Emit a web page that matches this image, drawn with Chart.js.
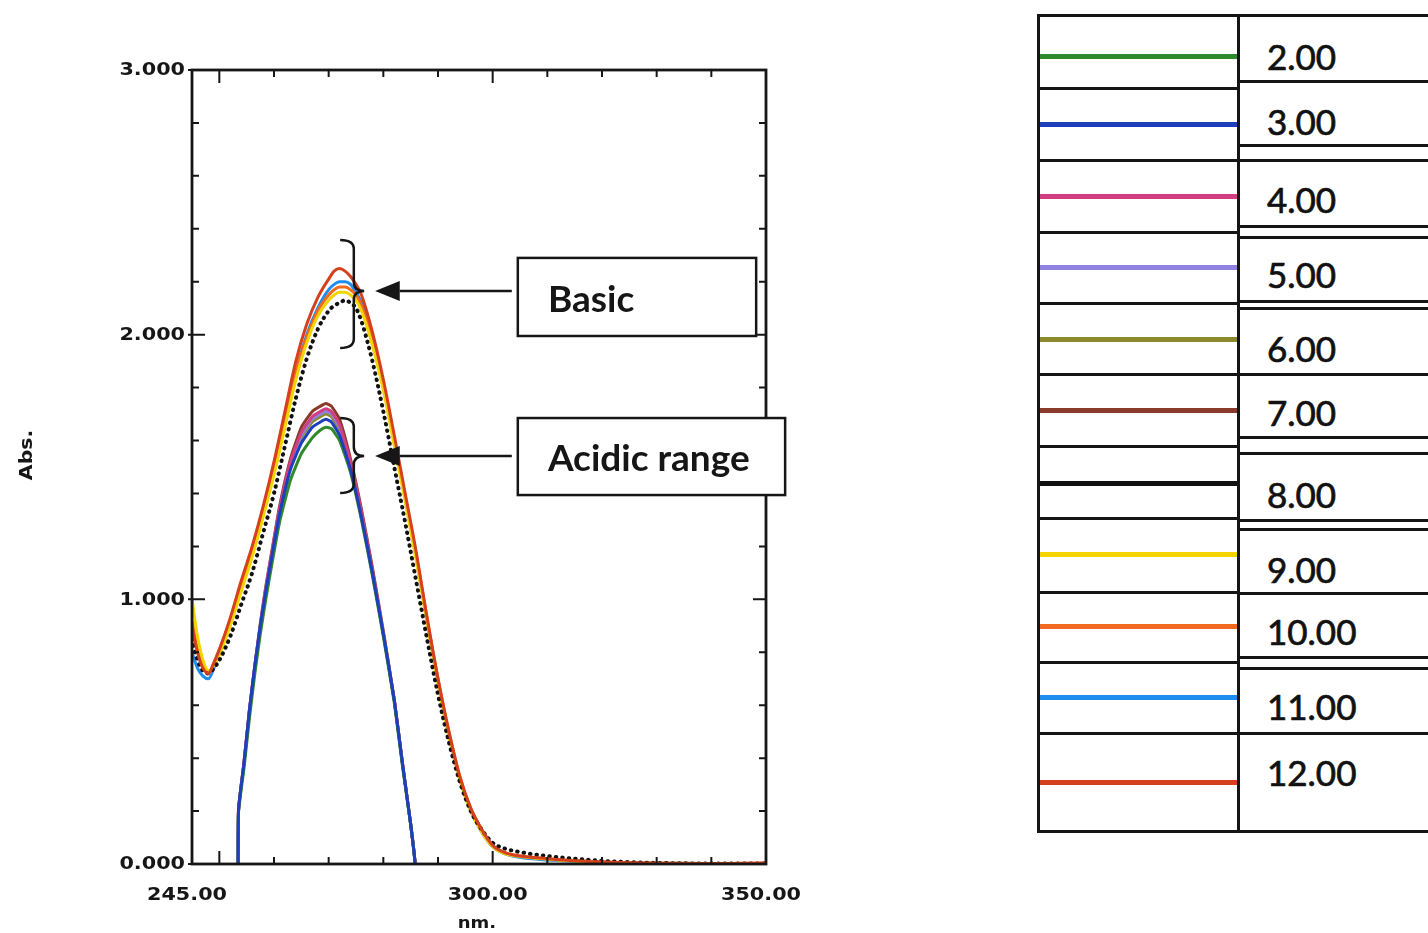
<!DOCTYPE html>
<html>
<head>
<meta charset="utf-8">
<script src="https://cdn.jsdelivr.net/npm/chart.js@4.4.0/dist/chart.umd.min.js"></script>
<style>
  body { margin: 0; background: #fff; width: 1428px; height: 933px; overflow: hidden; position: relative; font-family: Lato, sans-serif; }
  #chart { position: absolute; left: 0; top: 0; }
  .rule { position: absolute; background: #151515; }
  .swatch { position: absolute; height: 5px; }
  .ph { position: absolute; font-size: 35px; color: #111; line-height: 1; white-space: nowrap; -webkit-text-stroke: 0.7px #111; }
</style>
</head>
<body>
<canvas id="chart" width="830" height="933"></canvas>
<div id="legend"></div>
<script>
// pH of each curve, and its colour
const phLabels = ['2.00', '3.00', '4.00', '5.00', '6.00', '7.00', '8.00', '9.00', '10.00', '11.00', '12.00'];
const phColors = ['#2f8a2c', '#1d3fbb', '#d13f82', '#8f82e2', '#8c8a2c', '#8a3a2a', '#111111', '#f4d400', '#f26a22', '#1f8cf0', '#d6411d'];

// wavelengths (nm) read for the basic curves
const nmBasic = [245, 246, 247, 248, 249, 250, 252, 254, 256, 258, 260, 262, 264, 266, 268, 270, 271, 272, 273, 274, 275, 276, 278, 280, 282, 284, 286, 288, 290, 292, 294, 296, 298, 300, 302, 305, 310, 315, 320, 325, 330, 340, 350];
const absPH8  = [0.85, 0.77, 0.73, 0.72, 0.74, 0.77, 0.86, 0.98, 1.10, 1.25, 1.40, 1.58, 1.76, 1.91, 2.02, 2.09, 2.11, 2.12, 2.13, 2.12, 2.10, 2.05, 1.90, 1.71, 1.50, 1.29, 1.07, 0.85, 0.64, 0.46, 0.31, 0.20, 0.13, 0.08, 0.06, 0.045, 0.03, 0.02, 0.012, 0.007, 0.004, 0.002, 0.002];
const absPH9  = [1.00, 0.86, 0.77, 0.73, 0.75, 0.79, 0.90, 1.03, 1.16, 1.31, 1.47, 1.65, 1.83, 1.97, 2.07, 2.13, 2.15, 2.16, 2.16, 2.15, 2.13, 2.09, 1.96, 1.79, 1.58, 1.37, 1.15, 0.91, 0.68, 0.48, 0.32, 0.20, 0.12, 0.065, 0.04, 0.028, 0.018, 0.011, 0.007, 0.004, 0.003, 0.002, 0.002];
const absPH10 = [0.92, 0.81, 0.75, 0.72, 0.76, 0.81, 0.92, 1.05, 1.18, 1.33, 1.50, 1.68, 1.86, 1.99, 2.09, 2.15, 2.17, 2.18, 2.18, 2.17, 2.15, 2.11, 1.98, 1.81, 1.60, 1.39, 1.17, 0.93, 0.70, 0.50, 0.33, 0.21, 0.13, 0.07, 0.045, 0.03, 0.02, 0.013, 0.008, 0.005, 0.003, 0.002, 0.003];
const absPH11 = [0.80, 0.74, 0.71, 0.70, 0.74, 0.80, 0.92, 1.05, 1.18, 1.33, 1.50, 1.68, 1.86, 2.00, 2.10, 2.17, 2.19, 2.20, 2.20, 2.19, 2.16, 2.12, 1.99, 1.81, 1.60, 1.38, 1.16, 0.92, 0.69, 0.49, 0.32, 0.20, 0.12, 0.065, 0.04, 0.025, 0.015, 0.01, 0.006, 0.004, 0.003, 0.002, 0.002];
const absPH12 = [0.90, 0.80, 0.74, 0.72, 0.76, 0.81, 0.93, 1.07, 1.20, 1.35, 1.52, 1.71, 1.90, 2.04, 2.14, 2.21, 2.24, 2.25, 2.24, 2.22, 2.19, 2.15, 2.01, 1.83, 1.62, 1.40, 1.18, 0.93, 0.70, 0.50, 0.33, 0.21, 0.13, 0.07, 0.045, 0.03, 0.02, 0.012, 0.008, 0.005, 0.003, 0.002, 0.004];

// wavelengths (nm) read for the acidic curves (they run below zero outside this band)
const nmAcid = [253.45, 253.5, 254.5, 255.5, 256.5, 257.5, 258.5, 259.5, 261, 263, 265, 267, 268.5, 269.5, 270.5, 272, 274, 276, 278, 280, 282, 283.5, 285, 285.8, 285.85];
const absPH2 = [-0.5, 0.19, 0.36, 0.55, 0.72, 0.87, 1.00, 1.12, 1.29, 1.45, 1.55, 1.61, 1.64, 1.65, 1.645, 1.60, 1.48, 1.30, 1.09, 0.86, 0.61, 0.37, 0.15, 0.0, -0.5];
const absPH3 = [-0.5, 0.20, 0.38, 0.58, 0.75, 0.90, 1.03, 1.15, 1.32, 1.49, 1.59, 1.65, 1.67, 1.68, 1.67, 1.62, 1.49, 1.31, 1.10, 0.87, 0.62, 0.38, 0.15, 0.0, -0.5];
const absPH4 = [-0.5, 0.20, 0.38, 0.58, 0.75, 0.90, 1.04, 1.16, 1.34, 1.52, 1.63, 1.69, 1.71, 1.72, 1.71, 1.66, 1.52, 1.33, 1.11, 0.87, 0.62, 0.38, 0.15, 0.0, -0.5];
const absPH5 = [-0.5, 0.20, 0.38, 0.58, 0.75, 0.90, 1.04, 1.16, 1.33, 1.51, 1.62, 1.68, 1.70, 1.71, 1.70, 1.65, 1.51, 1.32, 1.10, 0.87, 0.62, 0.38, 0.15, 0.0, -0.5];
const absPH6 = [-0.5, 0.20, 0.38, 0.57, 0.74, 0.89, 1.03, 1.15, 1.33, 1.50, 1.61, 1.67, 1.69, 1.70, 1.69, 1.64, 1.50, 1.32, 1.10, 0.87, 0.62, 0.38, 0.15, 0.0, -0.5];
const absPH7 = [-0.5, 0.20, 0.38, 0.58, 0.75, 0.91, 1.05, 1.17, 1.35, 1.53, 1.65, 1.71, 1.73, 1.74, 1.73, 1.68, 1.53, 1.34, 1.12, 0.88, 0.62, 0.38, 0.15, 0.0, -0.5];

// axis ticks
const xMinorTicks = [250, 260, 270, 280, 290, 300, 310, 320, 330, 340];
const xMajorTicks = [250, 300];
const xLabelVals = [245, 300, 350];
const xLabels = ['245.00', '300.00', '350.00'];
const yMinorTicks = [0.2, 0.4, 0.6, 0.8, 1.2, 1.4, 1.6, 1.8, 2.2, 2.4, 2.6, 2.8];
const yMajorTicks = [0, 1, 2, 3];
const yLabels = ['0.000', '1.000', '2.000', '3.000'];

const series = [
  { idx: 1, nm: nmAcid, abs: absPH3, order: 0, acid: true },
  { idx: 10, nm: nmBasic, abs: absPH12, order: 1 },
  { idx: 6, nm: nmBasic, abs: absPH8, order: 2, dotted: true },
  { idx: 7, nm: nmBasic, abs: absPH9, order: 3 },
  { idx: 8, nm: nmBasic, abs: absPH10, order: 4 },
  { idx: 9, nm: nmBasic, abs: absPH11, order: 5 },
  { idx: 0, nm: nmAcid, abs: absPH2, order: 6, acid: true },
  { idx: 2, nm: nmAcid, abs: absPH4, order: 7, acid: true },
  { idx: 3, nm: nmAcid, abs: absPH5, order: 8, acid: true },
  { idx: 4, nm: nmAcid, abs: absPH6, order: 9, acid: true },
  { idx: 5, nm: nmAcid, abs: absPH7, order: 10, acid: true }
];

const datasets = series.map(s => ({
  label: phLabels[s.idx],
  data: s.nm.map((x, i) => ({ x: x, y: s.abs[i] })),
  borderColor: phColors[s.idx],
  borderWidth: s.dotted ? 4 : 3,
  borderDash: s.dotted ? [0.5, 6] : [],
  borderCapStyle: s.dotted ? 'round' : 'butt',
  borderJoinStyle: 'round',
  order: s.order,
  pointRadius: 0,
  cubicInterpolationMode: s.acid ? 'default' : 'monotone',
  tension: s.acid ? 0.15 : 0,
  fill: false
}));

// annotation anchors, in data units (nm, Abs.)
const braces = [
  { nm0: 272.1, nm1: 274.6, nm2: 276.5, top: 2.358, bottom: 1.950, mid: 2.165 },
  { nm0: 272.1, nm1: 274.6, nm2: 276.5, top: 1.685, bottom: 1.402, mid: 1.542 }
];
const arrows = [
  { tail: 303.5, base: 283.0, tip: 278.5, at: 2.165 },
  { tail: 303.5, base: 283.0, tip: 278.5, at: 1.542 }
];
const boxes = [
  { text: 'Basic', left: 304.6, right: 348.2, top: 2.290, bottom: 1.995, textAt: 310.1, textMid: 2.131 },
  { text: 'Acidic range', left: 304.6, right: 353.5, top: 1.685, bottom: 1.394, textAt: 310.1, textMid: 1.530 }
];

function wideText(ctx, text, x, y, align, sx) {
  ctx.save();
  ctx.translate(x, y);
  ctx.scale(sx, 1);
  ctx.textAlign = align;
  ctx.fillText(text, 0, 0);
  ctx.restore();
}

const framePlugin = {
  id: 'frame',
  afterDraw(chart) {
    const ctx = chart.ctx;
    const xs = chart.scales.x, ys = chart.scales.y;
    const a = chart.chartArea;
    ctx.save();
    ctx.strokeStyle = '#161616';
    ctx.fillStyle = '#161616';
    ctx.lineWidth = 2.8;
    ctx.strokeRect(a.left, a.top, a.right - a.left, a.bottom - a.top);

    ctx.lineWidth = 2;
    ctx.beginPath();
    xMinorTicks.forEach(v => {
      const px = xs.getPixelForValue(v);
      const len = xMajorTicks.includes(v) ? 13 : 7;
      ctx.moveTo(px, a.bottom); ctx.lineTo(px, a.bottom - len);
      ctx.moveTo(px, a.top); ctx.lineTo(px, a.top + len);
    });
    yMinorTicks.concat(yMajorTicks).forEach(v => {
      const py = ys.getPixelForValue(v);
      const len = yMajorTicks.includes(v) ? 13 : 7;
      ctx.moveTo(a.left - (yMajorTicks.includes(v) ? 4 : 0), py); ctx.lineTo(a.left + len, py);
      ctx.moveTo(a.right, py); ctx.lineTo(a.right - len, py);
    });
    ctx.stroke();

    ctx.font = 'bold 17px "DejaVu Sans", sans-serif';
    ctx.textBaseline = 'middle';
    yMajorTicks.forEach((v, i) => wideText(ctx, yLabels[i], a.left - 7, ys.getPixelForValue(v) + 1, 'right', 1.22));
    xLabelVals.forEach((v, i) => wideText(ctx, xLabels[i], xs.getPixelForValue(v) - 5, 896, 'center', 1.22));

    ctx.font = 'bold 15px "DejaVu Sans", sans-serif';
    wideText(ctx, 'nm.', 477, 924, 'center', 1.2);
    ctx.save();
    ctx.translate(28, 455);
    ctx.rotate(-Math.PI / 2);
    ctx.font = 'bold 17px "DejaVu Sans", sans-serif';
    wideText(ctx, 'Abs.', 0, 0, 'center', 1.2);
    ctx.restore();

    // braces
    ctx.lineWidth = 2.5;
    braces.forEach(b => {
      const x0 = xs.getPixelForValue(b.nm0), x1 = xs.getPixelForValue(b.nm1), x2 = xs.getPixelForValue(b.nm2);
      const t = ys.getPixelForValue(b.top), m = ys.getPixelForValue(b.mid), btm = ys.getPixelForValue(b.bottom);
      const r = 9;
      ctx.beginPath();
      ctx.moveTo(x0, t);
      ctx.quadraticCurveTo(x1, t, x1, t + r);
      ctx.lineTo(x1, m - r);
      ctx.quadraticCurveTo(x1, m, x2, m);
      ctx.quadraticCurveTo(x1, m, x1, m + r);
      ctx.lineTo(x1, btm - r);
      ctx.quadraticCurveTo(x1, btm, x0, btm);
      ctx.stroke();
    });

    // arrows
    arrows.forEach(ar => {
      const y = ys.getPixelForValue(ar.at);
      const tail = xs.getPixelForValue(ar.tail), base = xs.getPixelForValue(ar.base), tip = xs.getPixelForValue(ar.tip);
      ctx.beginPath();
      ctx.moveTo(tail, y); ctx.lineTo(base, y);
      ctx.stroke();
      ctx.beginPath();
      ctx.moveTo(tip, y); ctx.lineTo(base, y - 10); ctx.lineTo(base, y + 10); ctx.closePath();
      ctx.fill();
    });

    // text boxes
    boxes.forEach(bx => {
      const l = xs.getPixelForValue(bx.left), r = xs.getPixelForValue(bx.right);
      const t = ys.getPixelForValue(bx.top), b = ys.getPixelForValue(bx.bottom);
      ctx.fillStyle = '#fff';
      ctx.fillRect(l, t, r - l, b - t);
      ctx.strokeRect(l, t, r - l, b - t);
      ctx.fillStyle = '#161616';
      ctx.font = 'bold 37px Lato, sans-serif';
      ctx.textAlign = 'left';
      ctx.textBaseline = 'middle';
      ctx.fillText(bx.text, xs.getPixelForValue(bx.textAt), ys.getPixelForValue(bx.textMid));
    });
    ctx.restore();
  }
};

new Chart(document.getElementById('chart').getContext('2d'), {
  type: 'line',
  data: { datasets: datasets },
  options: {
    responsive: false,
    animation: false,
    layout: { padding: { left: 192, right: 64, top: 70, bottom: 69 } },
    plugins: { legend: { display: false }, tooltip: { enabled: false } },
    scales: {
      x: {
        type: 'linear', min: 245, max: 350,
        ticks: { display: false }, grid: { display: false }, border: { display: false },
        afterFit(s) { s.height = 0; }
      },
      y: {
        type: 'linear', min: 0, max: 3,
        ticks: { display: false }, grid: { display: false }, border: { display: false },
        afterFit(s) { s.width = 0; }
      }
    }
  },
  plugins: [framePlugin]
});

// legend table, laid out like the reference
const legendLineY = [56, 124, 196, 267, 339, 410, 483, 554, 626, 697, 782];
const legendTextY = [57, 122, 200, 275, 349, 413, 495, 570, 632, 707, 773];
const leftRules = [88, 160, 232, 303, 374, 446, 518, 592, 662, 733];
const rightRules = [81, 145, 160, 226, 237, 301, 308, 374, 437, 453, 520, 529, 593, 657, 668, 733];
const legend = document.getElementById('legend');
function addRule(x, y, w, h) {
  const d = document.createElement('div');
  d.className = 'rule';
  d.style.cssText = `left:${x}px;top:${y}px;width:${w}px;height:${h}px`;
  legend.appendChild(d);
}
phLabels.forEach((lab, i) => {
  const sw = document.createElement('div');
  sw.className = 'swatch';
  sw.style.cssText = `left:1040px;top:${legendLineY[i] - 2}px;width:198px;background:${phColors[i]}`;
  legend.appendChild(sw);
  const t = document.createElement('div');
  t.className = 'ph';
  t.textContent = lab;
  t.style.cssText = `left:1267px;top:${legendTextY[i] - 18}px`;
  legend.appendChild(t);
});
addRule(1037, 14, 400, 3);
addRule(1037, 830, 400, 3);
addRule(1037, 14, 3, 819);
addRule(1237, 14, 3, 819);
leftRules.forEach(y => addRule(1037, y - 1, 202, 2.5));
rightRules.forEach(y => addRule(1237, y - 1, 200, 2.5));
</script>
</body>
</html>
